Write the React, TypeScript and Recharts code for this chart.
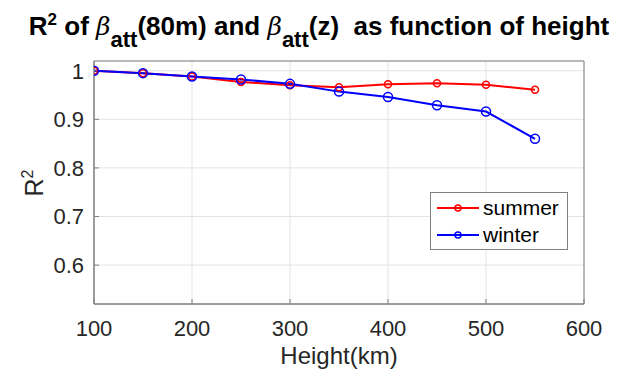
import React from "react"
import {
  LineChart,
  Line,
  XAxis,
  YAxis,
  CartesianGrid,
  ReferenceArea,
  Label,
} from "recharts"

// heights in km
const heights = [100, 150, 200, 250, 300, 350, 400, 450, 500, 550]
const summerR2 = [1.0, 0.995, 0.988, 0.977, 0.97, 0.966, 0.972, 0.974, 0.971, 0.961]
const winterR2 = [1.0, 0.995, 0.988, 0.982, 0.973, 0.957, 0.946, 0.929, 0.916, 0.86]

const xTicks = [100, 200, 300, 400, 500, 600]
const yTicks = [0.6, 0.7, 0.8, 0.9, 1]
const seriesNames = ["summer", "winter"]

const data = heights.map((h, i) => ({ h, summer: summerR2[i], winter: winterR2[i] }))

const FONT = "'Liberation Sans', Arial, Helvetica, sans-serif"
const AXIS = "#808080"
const TEXT = "#262626"
const RED = "#ff0000"
const BLUE = "#0000ff"

const fmtY = (v: number) => (v === 1 ? "1" : v.toFixed(1))

const beta = <i style={{ fontWeight: "normal", fontFamily: "'DejaVu Serif', serif", fontSize: 25 }}>β</i>
const sub = (s: string) => (
  <span style={{ position: "relative", top: 12, fontSize: 22 }}>{s}</span>
)

export default function App() {
  return (
    <div style={{ position: "absolute", left: 0, top: 0, width: 623, height: 374, background: "#fff", fontFamily: FONT }}>
      <div
        style={{
          position: "absolute",
          left: 0,
          top: 11,
          width: 638,
          textAlign: "center",
          fontSize: 26,
          fontWeight: "bold",
          color: "#000",
          whiteSpace: "pre",
          lineHeight: "30px",
        }}
      >
        R<span style={{ position: "relative", top: -10, fontSize: 17 }}>2</span> of {beta}
        {sub("att")}(80m) and {beta}
        {sub("att")}(z)  as function of height
      </div>

      <LineChart
        width={623}
        height={374}
        data={data}
        margin={{ top: 61, right: 39, bottom: 0, left: 34 }}
      >
        <CartesianGrid stroke="#e3e3e3" strokeWidth={1} />
        <XAxis
          dataKey="h"
          type="number"
          domain={[100, 600]}
          ticks={xTicks}
          height={70}
          stroke={AXIS}
          tickSize={-5}
          tickMargin={21}
          tick={{ fill: TEXT, fontSize: 22, fontFamily: FONT }}
          allowDataOverflow
        >
          <Label
            content={() => (
              <text x={339} y={364} textAnchor="middle" fill={TEXT} fontSize={24} fontFamily={FONT}>
                Height(km)
              </text>
            )}
          />
        </XAxis>
        <XAxis
          xAxisId="top"
          orientation="top"
          type="number"
          domain={[100, 600]}
          ticks={xTicks}
          height={0}
          stroke={AXIS}
          tickSize={-5}
          tick={false}
        />
        <YAxis
          type="number"
          domain={[0.52, 1.02]}
          ticks={yTicks}
          width={60}
          stroke={AXIS}
          tickSize={-5}
          tickMargin={15}
          tickFormatter={fmtY}
          tick={{ fill: TEXT, fontSize: 22, fontFamily: FONT }}
          allowDataOverflow
        >
          <Label
            content={() => (
              <text x={43} y={183} transform="rotate(-90 43 183)" textAnchor="middle" fill={TEXT} fontSize={25} fontFamily={FONT}>
                R<tspan dy={-10} fontSize={16}>2</tspan>
              </text>
            )}
          />
        </YAxis>
        <YAxis
          yAxisId="right"
          orientation="right"
          type="number"
          domain={[0.52, 1.02]}
          ticks={yTicks}
          width={0}
          stroke={AXIS}
          tickSize={-5}
          tick={false}
        />
        <ReferenceArea x1={100} x2={600} y1={0.52} y2={1.02} fill="none" stroke={AXIS} strokeWidth={1} />
        <Line
          dataKey="summer"
          stroke={RED}
          strokeWidth={2}
          dot={{ r: 3.5, stroke: RED, strokeWidth: 1.5, fill: "none" }}
          isAnimationActive={false}
        />
        <Line
          dataKey="winter"
          stroke={BLUE}
          strokeWidth={2}
          dot={{ r: 4.5, stroke: BLUE, strokeWidth: 1.5, fill: "none" }}
          isAnimationActive={false}
        />
      </LineChart>

      <div
        style={{
          position: "absolute",
          left: 430,
          top: 192,
          width: 138,
          height: 58,
          border: `1px solid ${AXIS}`,
          background: "#fff",
          boxSizing: "border-box",
        }}
      >
        {seriesNames.map((name, i) => {
          const color = i === 0 ? RED : BLUE
          return (
            <div key={name} style={{ position: "absolute", left: 5, top: 3 + i * 27, height: 24, display: "flex", alignItems: "center" }}>
              <svg width={44} height={24}>
                <line x1={1} y1={12} x2={43} y2={12} stroke={color} strokeWidth={2} />
                <circle cx={22} cy={12} r={3} stroke={color} strokeWidth={1.5} fill="none" />
              </svg>
              <span style={{ marginLeft: 3, fontSize: 21, color: "#000", lineHeight: "24px" }}>{name}</span>
            </div>
          )
        })}
      </div>
    </div>
  )
}
